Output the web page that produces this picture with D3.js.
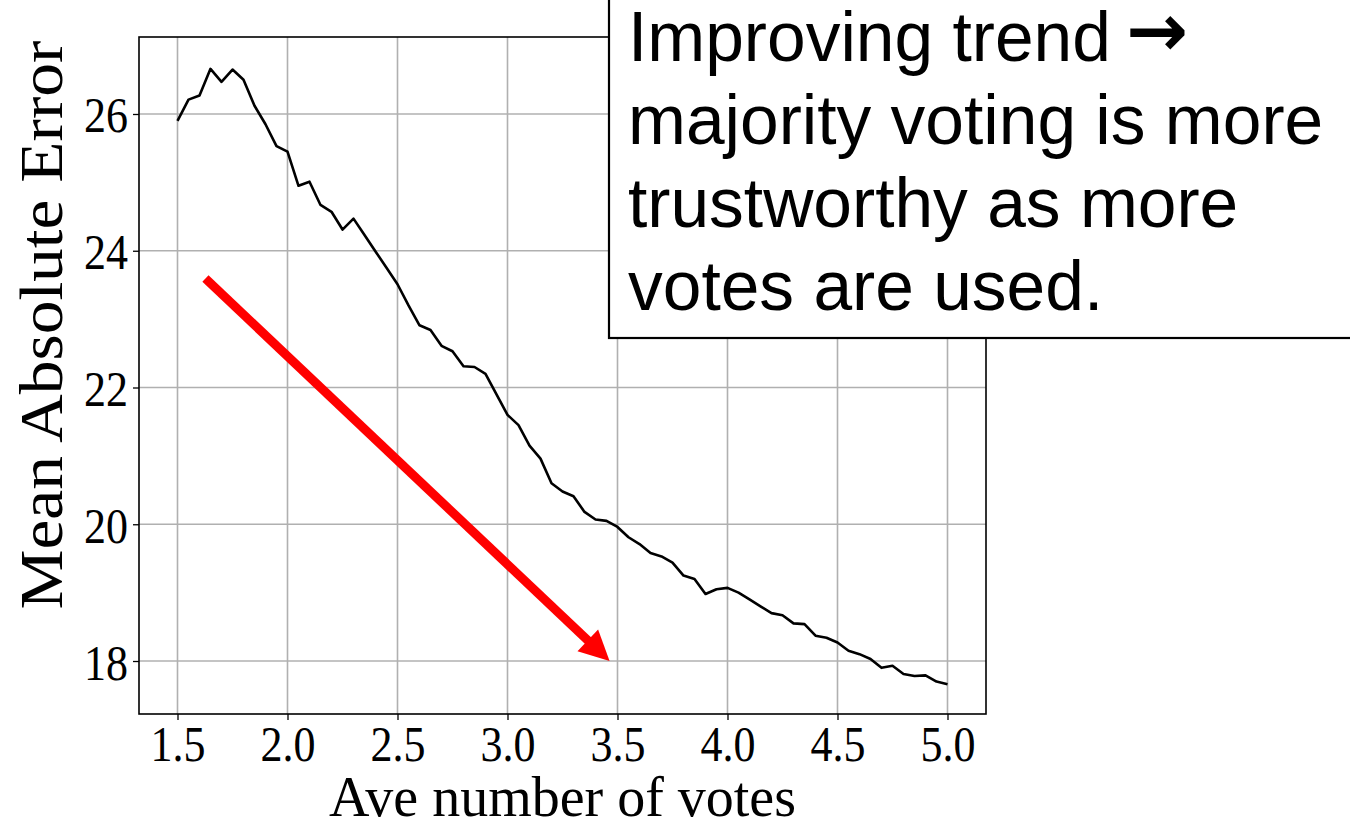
<!DOCTYPE html>
<html>
<head>
<meta charset="utf-8">
<script src="https://cdn.jsdelivr.net/npm/d3@7"></script>
<style>
  html, body { margin: 0; padding: 0; background: #fff; }
  svg { display: block; }
</style>
</head>
<body>
<svg id="chart" width="1350" height="822"></svg>
<script>
// ---- data ----
const votes = [1.50,1.55,1.60,1.65,1.70,1.75,1.80,1.85,1.90,1.95,
               2.00,2.05,2.10,2.15,2.20,2.25,2.30,2.35,2.40,2.45,
               2.50,2.55,2.60,2.65,2.70,2.75,2.80,2.85,2.90,2.95,
               3.00,3.05,3.10,3.15,3.20,3.25,3.30,3.35,3.40,3.45,
               3.50,3.55,3.60,3.65,3.70,3.75,3.80,3.85,3.90,3.95,
               4.00,4.05,4.10,4.15,4.20,4.25,4.30,4.35,4.40,4.45,
               4.50,4.55,4.60,4.65,4.70,4.75,4.80,4.85,4.90,4.95,5.00];
const mae = [25.90,26.21,26.27,26.66,26.47,26.65,26.50,26.12,25.85,25.53,
             25.45,24.95,25.01,24.67,24.57,24.31,24.47,24.23,23.99,23.75,
             23.51,23.20,22.91,22.84,22.61,22.53,22.31,22.30,22.20,21.90,
             21.60,21.45,21.15,20.96,20.60,20.48,20.41,20.18,20.07,20.05,
             19.96,19.81,19.71,19.58,19.53,19.44,19.25,19.20,18.98,19.05,
             19.07,19.00,18.90,18.80,18.70,18.67,18.55,18.54,18.37,18.34,
             18.27,18.15,18.10,18.03,17.90,17.93,17.81,17.78,17.79,17.70,17.66];
const xTicks = [1.5, 2.0, 2.5, 3.0, 3.5, 4.0, 4.5, 5.0];
const xTickLabels = ["1.5","2.0","2.5","3.0","3.5","4.0","4.5","5.0"];
const yTicks = [18, 20, 22, 24, 26];
const yTickLabels = ["18","20","22","24","26"];
const arrowFrom = [1.627, 23.594];
const arrowTo = [3.464, 18.0];
const xLabel = "Ave number of votes";
const yLabel = "Mean Absolute Error";
const noteLines = ["Improving trend ", "majority voting is more", "trustworthy as more", "votes are used."];
const noteArrow = "\u2192";

// ---- layout ----
const L = 139, R = 986, T = 37, B = 714;
const svg = d3.select("#chart");
const x = d3.scaleLinear().domain([1.325, 5.175]).range([L, R]);
const y = d3.scaleLinear().domain([17.225, 27.126]).range([B, T]);
const serif = "'Liberation Serif', 'Times New Roman', serif";
const sans = "'Liberation Sans', Arial, sans-serif";
const sY = 1.13;

// grid
const grid = svg.append("g");
grid.selectAll("line.vx").data(xTicks).join("line")
  .attr("x1", d => x(d)).attr("x2", d => x(d)).attr("y1", T).attr("y2", B)
  .attr("stroke", "#b0b0b0").attr("stroke-width", 1.6);
grid.selectAll("line.hy").data(yTicks).join("line")
  .attr("y1", d => y(d)).attr("y2", d => y(d)).attr("x1", L).attr("x2", R)
  .attr("stroke", "#b0b0b0").attr("stroke-width", 1.6);

// line
svg.append("path")
  .datum(votes.map((v, i) => [v, mae[i]]))
  .attr("fill", "none").attr("stroke", "#000").attr("stroke-width", 2.6)
  .attr("stroke-linejoin", "round")
  .attr("d", d3.line().x(d => x(d[0])).y(d => y(d[1])));

// axes
const xAxis = svg.append("g").attr("transform", `translate(0,${B})`)
  .call(d3.axisBottom(x).tickValues(xTicks).tickSize(6).tickFormat((d, i) => xTickLabels[i]));
xAxis.select(".domain").remove();
xAxis.selectAll(".tick line").attr("stroke", "#000").attr("stroke-width", 1.3);
xAxis.selectAll(".tick text")
  .attr("y", null).attr("dy", null)
  .attr("transform", `translate(0,47) scale(1,${sY})`)
  .attr("font-family", serif).attr("font-size", 44).attr("fill", "#000")
  .attr("text-anchor", "middle");

const yAxis = svg.append("g").attr("transform", `translate(${L},0)`)
  .call(d3.axisLeft(y).tickValues(yTicks).tickSize(6).tickFormat((d, i) => yTickLabels[i]));
yAxis.select(".domain").remove();
yAxis.selectAll(".tick line").attr("stroke", "#000").attr("stroke-width", 1.3);
yAxis.selectAll(".tick text")
  .attr("x", null).attr("dy", null)
  .attr("transform", `translate(-11,18) scale(1,${sY})`)
  .attr("font-family", serif).attr("font-size", 44).attr("fill", "#000")
  .attr("text-anchor", "end");

// frame
svg.append("rect").attr("x", L).attr("y", T).attr("width", R - L).attr("height", B - T)
  .attr("fill", "none").attr("stroke", "#000").attr("stroke-width", 1.6);

// axis labels
svg.append("text")
  .attr("transform", `translate(${(L + R) / 2},816) scale(1,1.03)`)
  .attr("text-anchor", "middle").attr("font-family", serif).attr("font-size", 56)
  .attr("fill", "#000").text(xLabel);
svg.append("text")
  .attr("transform", `translate(62,325) scale(1,1.105) rotate(-90)`)
  .attr("text-anchor", "middle").attr("font-family", serif).attr("font-size", 61)
  .attr("fill", "#000").text(yLabel);

// red arrow
const x0 = x(arrowFrom[0]), y0 = y(arrowFrom[1]);
const x1 = x(arrowTo[0]), y1 = y(arrowTo[1]);
const ang = Math.atan2(y1 - y0, x1 - x0);
const headLen = 30, headHalf = 15;
const bx = x1 - headLen * Math.cos(ang), by = y1 - headLen * Math.sin(ang);
const px = -Math.sin(ang), py = Math.cos(ang);
svg.append("line")
  .attr("x1", x0).attr("y1", y0).attr("x2", bx + 2 * Math.cos(ang)).attr("y2", by + 2 * Math.sin(ang))
  .attr("stroke", "#ff0000").attr("stroke-width", 9).attr("stroke-linecap", "butt");
svg.append("path")
  .attr("d", `M${x1},${y1} L${bx + headHalf * px},${by + headHalf * py} L${bx - headHalf * px},${by - headHalf * py} Z`)
  .attr("fill", "#ff0000");

// note box
svg.append("rect").attr("x", 609).attr("y", -10).attr("width", 760).attr("height", 348)
  .attr("fill", "#fff").attr("stroke", "#000").attr("stroke-width", 2.2);
const note = svg.append("text").attr("font-family", sans).attr("font-size", 69.5).attr("fill", "#000");
note.selectAll("tspan.l").data(noteLines).join("tspan")
  .attr("class", "l")
  .attr("x", 628).attr("y", (d, i) => 61 + i * 83).text(d => d);
// the arrow glyph after the first line
const firstLen = note.select("tspan.l").node().getComputedTextLength();
svg.append("text").attr("x", 628 + firstLen - 4).attr("y", 56)
  .attr("font-family", "'DejaVu Sans', sans-serif").attr("font-size", 74)
  .attr("font-weight", "bold").attr("fill", "#000").text(noteArrow);
</script>
</body>
</html>
